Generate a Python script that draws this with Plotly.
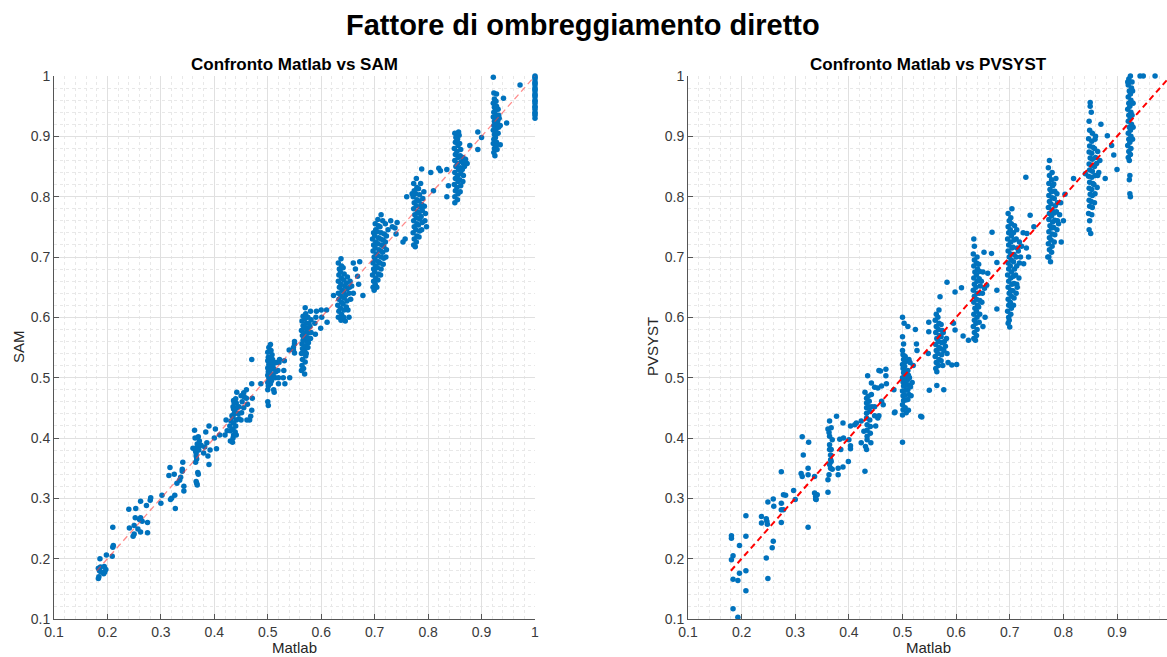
import plotly.graph_objects as go

# ---------------- data ----------------
TICK_VALS = [0.1, 0.2, 0.3, 0.4, 0.5, 0.6, 0.7, 0.8, 0.9, 1.0]
TICK_TEXT = ["0.1", "0.2", "0.3", "0.4", "0.5", "0.6", "0.7", "0.8", "0.9", "1"]

SUPTITLE = "Fattore di ombreggiamento diretto"
TITLE_L = "Confronto Matlab vs SAM"
TITLE_R = "Confronto Matlab vs PVSYST"
XLABEL = "Matlab"
YLABEL_L = "SAM"
YLABEL_R = "PVSYST"

REF_LINE_X = [0.18, 1.0]
REF_LINE_Y = [0.18, 1.0]

# SAM vs Matlab, grouped by Matlab cluster
SAM_LOW = [(0.183,0.167),(0.184,0.170),(0.185,0.180),(0.183,0.184),(0.187,0.186),(0.186,0.200),(0.193,0.175),
           (0.195,0.178),(0.197,0.182),(0.194,0.187),(0.198,0.206),(0.209,0.204),(0.210,0.219),(0.211,0.222),
           (0.210,0.252),(0.188,0.178),
           (0.240,0.282),(0.241,0.251),(0.248,0.237),(0.250,0.241),(0.250,0.255),(0.252,0.268),(0.253,0.283),
           (0.257,0.249),(0.260,0.265),(0.262,0.295),(0.262,0.244),(0.265,0.262),(0.273,0.288),(0.275,0.243),
           (0.275,0.260),(0.280,0.297),(0.281,0.301),(0.262,0.268),
           (0.300,0.292),(0.302,0.305),(0.315,0.338),(0.317,0.351),(0.318,0.298),(0.320,0.300),(0.325,0.340),
           (0.326,0.305),(0.327,0.283),(0.330,0.325),(0.335,0.330),(0.340,0.345),(0.340,0.348),(0.341,0.360),
           (0.343,0.312),(0.343,0.320),(0.337,0.335)]
SAM_037 = [(0.363,0.413),(0.364,0.400),(0.365,0.383),(0.366,0.370),(0.365,0.360),(0.367,0.325),(0.368,0.322),
           (0.366,0.328),(0.369,0.343),(0.370,0.340),(0.371,0.380),(0.372,0.395),(0.368,0.390),(0.366,0.375),
           (0.370,0.402),(0.367,0.365),(0.371,0.385),(0.365,0.378),(0.380,0.375),(0.382,0.385),(0.384,0.410),
           (0.386,0.392),(0.390,0.420),(0.392,0.380),(0.388,0.370),(0.390,0.356),(0.400,0.400),(0.402,0.415),
           (0.404,0.382),(0.410,0.405),(0.375,0.388),(0.360,0.383)]
SAM_044 = [(0.430,0.395),(0.430,0.412),(0.431,0.428),(0.429,0.420),(0.434,0.393),(0.435,0.400),(0.436,0.405),
           (0.435,0.415),(0.436,0.425),(0.435,0.435),(0.437,0.440),(0.436,0.448),(0.435,0.452),(0.437,0.458),
           (0.436,0.462),(0.440,0.420),(0.441,0.430),(0.440,0.442),(0.442,0.450),(0.441,0.458),(0.440,0.465),
           (0.442,0.476),(0.439,0.410),(0.441,0.405),(0.445,0.440),(0.446,0.452),(0.446,0.432),(0.450,0.470),
           (0.451,0.442),(0.450,0.430),(0.452,0.460),(0.455,0.475),(0.456,0.468),(0.455,0.450),(0.460,0.480),
           (0.461,0.430),(0.460,0.466),(0.462,0.456),(0.470,0.490),(0.470,0.446),(0.468,0.436),(0.466,0.430),
           (0.471,0.466),(0.420,0.405),(0.422,0.430),(0.424,0.412),(0.438,0.446),(0.433,0.437)]
SAM_050 = [(0.500,0.460),(0.501,0.454),(0.500,0.480),(0.501,0.486),(0.500,0.492),(0.502,0.498),(0.500,0.504),
           (0.501,0.510),(0.500,0.516),(0.502,0.522),(0.500,0.528),(0.501,0.534),(0.500,0.542),(0.502,0.550),
           (0.505,0.490),(0.506,0.500),(0.504,0.508),(0.506,0.514),(0.505,0.520),(0.504,0.530),(0.506,0.545),
           (0.505,0.555),(0.507,0.495),(0.510,0.505),(0.511,0.515),(0.510,0.522),(0.509,0.530),(0.511,0.480),
           (0.512,0.476),(0.515,0.510),(0.516,0.525),(0.514,0.500),(0.520,0.500),(0.521,0.525),(0.519,0.512),
           (0.522,0.530),(0.520,0.490),(0.530,0.512),(0.531,0.528),(0.529,0.500),(0.532,0.490),(0.540,0.546),
           (0.541,0.500),(0.550,0.556),(0.550,0.541),(0.548,0.550),(0.470,0.530),(0.487,0.490),(0.503,0.526),
           (0.508,0.538)]
SAM_057 = [(0.563,0.512),(0.564,0.520),(0.565,0.530),(0.563,0.540),(0.565,0.548),(0.564,0.556),(0.566,0.562),
           (0.565,0.570),(0.563,0.578),(0.566,0.586),(0.564,0.594),(0.566,0.602),(0.569,0.506),(0.570,0.526),
           (0.571,0.536),(0.569,0.545),(0.570,0.553),(0.572,0.561),(0.570,0.568),(0.571,0.575),(0.569,0.583),
           (0.572,0.590),(0.570,0.598),(0.571,0.606),(0.570,0.616),(0.575,0.550),(0.576,0.558),(0.574,0.566),
           (0.576,0.574),(0.575,0.582),(0.577,0.590),(0.575,0.600),(0.580,0.565),(0.581,0.575),(0.579,0.585),
           (0.581,0.596),(0.580,0.610),(0.588,0.590),(0.590,0.600),(0.591,0.610),(0.589,0.572),(0.600,0.612),
           (0.601,0.600),(0.599,0.582),(0.610,0.612),(0.611,0.592),(0.550,0.560),(0.548,0.546),(0.567,0.515),
           (0.572,0.540)]
SAM_064 = [(0.632,0.600),(0.633,0.610),(0.631,0.620),(0.633,0.630),(0.632,0.640),(0.634,0.650),(0.632,0.660),
           (0.633,0.670),(0.634,0.680),(0.632,0.690),(0.637,0.595),(0.638,0.605),(0.636,0.615),(0.638,0.625),
           (0.637,0.635),(0.639,0.645),(0.637,0.655),(0.638,0.665),(0.636,0.675),(0.638,0.685),(0.637,0.697),
           (0.642,0.600),(0.643,0.612),(0.641,0.622),(0.643,0.632),(0.642,0.642),(0.644,0.652),(0.642,0.662),
           (0.643,0.672),(0.641,0.682),(0.647,0.617),(0.648,0.627),(0.646,0.637),(0.648,0.647),(0.647,0.657),
           (0.649,0.667),(0.652,0.640),(0.653,0.650),(0.655,0.630),(0.654,0.660),(0.650,0.612),(0.657,0.652),
           (0.660,0.690),(0.664,0.680),(0.668,0.668),(0.670,0.655),(0.672,0.692),(0.678,0.636),(0.623,0.636),
           (0.645,0.594),(0.652,0.600),(0.660,0.640)]
SAM_071 = [(0.697,0.650),(0.698,0.660),(0.696,0.670),(0.698,0.680),(0.697,0.690),(0.699,0.700),(0.697,0.710),
           (0.698,0.720),(0.696,0.730),(0.698,0.740),(0.701,0.655),(0.702,0.665),(0.700,0.675),(0.702,0.685),
           (0.701,0.695),(0.703,0.705),(0.701,0.715),(0.702,0.725),(0.700,0.735),(0.702,0.745),(0.701,0.755),
           (0.706,0.662),(0.707,0.672),(0.705,0.682),(0.707,0.692),(0.706,0.702),(0.708,0.712),(0.706,0.722),
           (0.707,0.732),(0.705,0.742),(0.707,0.752),(0.706,0.762),(0.711,0.670),(0.712,0.680),(0.710,0.690),
           (0.712,0.700),(0.711,0.710),(0.713,0.720),(0.711,0.730),(0.712,0.740),(0.710,0.750),(0.712,0.770),
           (0.716,0.688),(0.717,0.698),(0.715,0.708),(0.717,0.718),(0.716,0.728),(0.718,0.738),(0.721,0.700),
           (0.722,0.712),(0.720,0.725),(0.722,0.735),(0.725,0.745),(0.730,0.760),(0.733,0.750),(0.738,0.748),
           (0.740,0.738),(0.742,0.757),(0.757,0.730),(0.699,0.645),(0.704,0.650),(0.715,0.760),(0.720,0.755)]
SAM_078 = [(0.773,0.720),(0.774,0.730),(0.772,0.740),(0.774,0.750),(0.773,0.760),(0.775,0.770),(0.773,0.780),
           (0.774,0.790),(0.772,0.800),(0.774,0.810),(0.773,0.822),(0.778,0.725),(0.779,0.735),(0.777,0.745),
           (0.779,0.755),(0.778,0.765),(0.780,0.775),(0.778,0.785),(0.779,0.795),(0.777,0.805),(0.779,0.815),
           (0.778,0.830),(0.783,0.733),(0.784,0.743),(0.782,0.753),(0.784,0.763),(0.783,0.773),(0.785,0.783),
           (0.783,0.793),(0.784,0.803),(0.782,0.813),(0.788,0.745),(0.789,0.757),(0.787,0.767),(0.789,0.777),
           (0.788,0.787),(0.790,0.797),(0.794,0.760),(0.795,0.772),(0.793,0.784),(0.797,0.750),(0.776,0.717),
           (0.788,0.846),(0.805,0.840),(0.820,0.847),(0.823,0.843),(0.835,0.845),(0.838,0.818),(0.835,0.800),
           (0.760,0.800),(0.753,0.725),(0.810,0.810),(0.770,0.805),(0.786,0.822),(0.792,0.808)]
SAM_085 = [(0.850,0.800),(0.851,0.810),(0.849,0.820),(0.851,0.830),(0.850,0.840),(0.852,0.850),(0.850,0.860),
           (0.851,0.870),(0.849,0.880),(0.851,0.890),(0.850,0.905),(0.855,0.795),(0.856,0.805),(0.854,0.815),
           (0.856,0.825),(0.855,0.835),(0.857,0.845),(0.855,0.855),(0.856,0.865),(0.854,0.875),(0.856,0.885),
           (0.855,0.895),(0.857,0.907),(0.860,0.808),(0.861,0.818),(0.859,0.828),(0.861,0.838),(0.860,0.848),
           (0.862,0.858),(0.860,0.868),(0.861,0.878),(0.859,0.888),(0.865,0.825),(0.866,0.835),(0.864,0.845),
           (0.866,0.855),(0.865,0.865),(0.868,0.850),(0.870,0.862),(0.873,0.855),(0.850,0.790),(0.878,0.885),
           (0.893,0.907),(0.900,0.898),(0.893,0.878),(0.852,0.898),(0.858,0.902)]
SAM_092 = [(0.922,0.998),(0.923,0.972),(0.928,0.970),(0.924,0.962),(0.922,0.955),(0.924,0.948),(0.923,0.940),
           (0.922,0.932),(0.924,0.925),(0.923,0.918),(0.922,0.910),(0.924,0.903),(0.923,0.895),(0.922,0.888),
           (0.924,0.880),(0.923,0.873),(0.927,0.958),(0.928,0.950),(0.926,0.943),(0.928,0.935),(0.927,0.928),
           (0.929,0.920),(0.927,0.912),(0.928,0.905),(0.926,0.898),(0.928,0.890),(0.927,0.884),(0.931,0.945),
           (0.932,0.935),(0.930,0.925),(0.932,0.915),(0.931,0.905),(0.933,0.930),(0.935,0.918),(0.941,0.963),
           (0.947,0.922),(0.935,0.886),(0.972,0.985),(0.925,0.868),(0.929,0.878)]
SAM_100 = [(1.0,0.930),(1.0,0.935),(1.0,0.940),(1.0,0.945),(1.0,0.950),(1.0,0.955),(1.0,0.960),(1.0,0.965),
           (1.0,0.970),(1.0,0.975),(1.0,0.980),(1.0,0.985),(1.0,0.990),(1.0,0.995),(1.0,1.000),(1.0,0.938),
           (1.0,0.948),(1.0,0.958),(1.0,0.968),(1.0,0.978),(1.0,0.988),(1.0,0.998)]

# PVSYST vs Matlab, grouped by Matlab cluster
PVS_LOW = [(0.181,0.238),(0.181,0.234),(0.181,0.198),(0.184,0.205),(0.184,0.166),(0.184,0.117),(0.193,0.164),
           (0.193,0.103),(0.196,0.222),(0.196,0.176),(0.208,0.271),(0.208,0.237),(0.208,0.180),(0.208,0.147),
           (0.237,0.270),(0.237,0.259),(0.246,0.266),(0.247,0.262),(0.248,0.257),(0.249,0.294),(0.246,0.201),
           (0.249,0.167),(0.259,0.299),(0.260,0.287),(0.259,0.229),(0.257,0.218),(0.274,0.344),(0.274,0.292),
           (0.274,0.281),(0.274,0.260),(0.278,0.306),(0.278,0.281),(0.282,0.305),
           (0.297,0.313),(0.300,0.298),(0.313,0.402),(0.315,0.372),(0.311,0.341),(0.313,0.336),(0.324,0.350),
           (0.325,0.393),(0.324,0.339),(0.324,0.252),(0.336,0.336),(0.336,0.309),(0.338,0.303),(0.338,0.299),
           (0.341,0.306),(0.339,0.298)]
PVS_037 = [(0.361,0.415),(0.363,0.409),(0.364,0.428),(0.364,0.403),(0.364,0.389),(0.364,0.381),(0.366,0.372),
           (0.366,0.364),(0.364,0.356),(0.366,0.350),(0.363,0.339),(0.361,0.331),(0.361,0.310),(0.367,0.417),
           (0.367,0.381),(0.367,0.361),(0.369,0.348),(0.369,0.397),(0.377,0.436),(0.380,0.350),(0.380,0.339),
           (0.383,0.398),(0.385,0.381),(0.389,0.425),(0.389,0.352),(0.390,0.400),(0.399,0.361),(0.400,0.397),
           (0.403,0.420),(0.403,0.387),(0.403,0.382),(0.411,0.422),(0.414,0.425)]
PVS_044 = [(0.423,0.428),(0.423,0.392),(0.428,0.411),(0.430,0.476),(0.431,0.386),(0.430,0.345),(0.433,0.381),
           (0.433,0.466),(0.433,0.458),(0.433,0.450),(0.433,0.441),(0.433,0.433),(0.434,0.422),(0.434,0.413),
           (0.434,0.403),(0.434,0.397),(0.435,0.503),(0.436,0.469),(0.438,0.461),(0.438,0.452),(0.439,0.444),
           (0.439,0.430),(0.440,0.419),(0.440,0.408),(0.441,0.392),(0.442,0.491),(0.442,0.472),(0.443,0.452),
           (0.448,0.484),(0.448,0.452),(0.448,0.437),(0.450,0.420),(0.454,0.483),(0.454,0.433),(0.456,0.437),
           (0.456,0.512),(0.459,0.511),(0.461,0.486),(0.461,0.461),(0.464,0.455),(0.469,0.514),(0.469,0.503),
           (0.470,0.490),(0.484,0.480),(0.486,0.443)]
PVS_050 = [(0.500,0.600),(0.503,0.590),(0.510,0.585),(0.524,0.580),(0.500,0.568),(0.502,0.556),(0.526,0.556),
           (0.527,0.545),(0.500,0.545),(0.501,0.538),(0.502,0.530),(0.500,0.522),(0.501,0.515),(0.502,0.508),
           (0.500,0.500),(0.501,0.493),(0.502,0.486),(0.500,0.478),(0.501,0.470),(0.502,0.462),(0.500,0.455),
           (0.501,0.447),(0.500,0.438),(0.505,0.535),(0.506,0.527),(0.504,0.519),(0.506,0.511),(0.505,0.503),
           (0.507,0.495),(0.505,0.487),(0.506,0.479),(0.504,0.471),(0.506,0.463),(0.505,0.450),(0.510,0.512),
           (0.511,0.504),(0.509,0.496),(0.511,0.488),(0.510,0.480),(0.512,0.472),(0.510,0.464),(0.513,0.500),
           (0.515,0.485),(0.516,0.470),(0.514,0.525),(0.520,0.520),(0.511,0.446),(0.507,0.442),(0.534,0.436),
           (0.485,0.442),(0.500,0.393),(0.518,0.492),(0.512,0.530)]
PVS_057 = [(0.562,0.515),(0.563,0.525),(0.561,0.535),(0.563,0.545),(0.562,0.555),(0.564,0.565),(0.562,0.575),
           (0.563,0.585),(0.561,0.595),(0.563,0.605),(0.567,0.520),(0.568,0.530),(0.566,0.540),(0.568,0.550),
           (0.567,0.560),(0.569,0.570),(0.567,0.580),(0.568,0.590),(0.566,0.600),(0.568,0.612),(0.572,0.528),
           (0.573,0.538),(0.571,0.548),(0.573,0.558),(0.572,0.568),(0.574,0.578),(0.572,0.588),(0.577,0.545),
           (0.578,0.560),(0.576,0.575),(0.580,0.552),(0.582,0.565),(0.583,0.540),(0.585,0.525),(0.549,0.592),
           (0.549,0.576),(0.570,0.634),(0.583,0.658),(0.598,0.642),(0.610,0.649),(0.595,0.590),(0.598,0.579),
           (0.601,0.522),(0.592,0.521),(0.564,0.487),(0.577,0.480),(0.550,0.479),(0.613,0.569),(0.623,0.562),
           (0.564,0.510),(0.575,0.520),(0.536,0.435),(0.548,0.540)]
PVS_064 = [(0.633,0.565),(0.634,0.575),(0.632,0.585),(0.634,0.595),(0.633,0.605),(0.635,0.615),(0.633,0.625),
           (0.634,0.635),(0.632,0.645),(0.634,0.655),(0.633,0.665),(0.635,0.675),(0.633,0.685),(0.634,0.695),
           (0.632,0.705),(0.634,0.718),(0.633,0.730),(0.638,0.570),(0.639,0.580),(0.637,0.590),(0.639,0.600),
           (0.638,0.610),(0.640,0.620),(0.638,0.630),(0.639,0.640),(0.637,0.650),(0.639,0.660),(0.638,0.670),
           (0.640,0.680),(0.638,0.690),(0.639,0.700),(0.643,0.592),(0.644,0.605),(0.642,0.617),(0.644,0.628),
           (0.643,0.640),(0.645,0.652),(0.643,0.664),(0.644,0.676),(0.642,0.688),(0.648,0.625),(0.649,0.640),
           (0.647,0.660),(0.650,0.675),(0.653,0.648),(0.654,0.600),(0.650,0.585),(0.667,0.741),(0.666,0.706),
           (0.676,0.691),(0.659,0.673),(0.676,0.645),(0.676,0.614),(0.657,0.653),(0.652,0.708),(0.636,0.562)]
PVS_071 = [(0.697,0.590),(0.698,0.600),(0.696,0.610),(0.698,0.620),(0.697,0.630),(0.699,0.640),(0.697,0.650),
           (0.698,0.660),(0.696,0.670),(0.698,0.680),(0.697,0.690),(0.699,0.700),(0.697,0.710),(0.698,0.720),
           (0.696,0.730),(0.698,0.740),(0.697,0.750),(0.699,0.760),(0.697,0.772),(0.702,0.605),(0.703,0.615),
           (0.701,0.625),(0.703,0.635),(0.702,0.645),(0.704,0.655),(0.702,0.665),(0.703,0.675),(0.701,0.685),
           (0.703,0.695),(0.702,0.705),(0.704,0.715),(0.702,0.725),(0.703,0.735),(0.701,0.745),(0.703,0.755),
           (0.702,0.765),(0.704,0.780),(0.707,0.620),(0.708,0.632),(0.706,0.644),(0.708,0.656),(0.707,0.668),
           (0.709,0.680),(0.707,0.692),(0.708,0.704),(0.706,0.716),(0.708,0.728),(0.707,0.740),(0.709,0.752),
           (0.712,0.640),(0.713,0.655),(0.711,0.670),(0.713,0.685),(0.712,0.700),(0.714,0.715),(0.712,0.730),
           (0.713,0.745),(0.717,0.665),(0.718,0.690),(0.716,0.710),(0.718,0.725),(0.720,0.700),(0.722,0.718),
           (0.732,0.739),(0.738,0.769),(0.731,0.715),(0.726,0.689),(0.714,0.650),(0.700,0.584),(0.745,0.750),
           (0.735,0.700),(0.725,0.740),(0.699,0.595)]
PVS_078 = [(0.773,0.700),(0.774,0.712),(0.772,0.722),(0.774,0.732),(0.773,0.742),(0.775,0.752),(0.773,0.762),
           (0.774,0.772),(0.772,0.782),(0.774,0.792),(0.773,0.802),(0.775,0.812),(0.773,0.822),(0.774,0.835),
           (0.772,0.848),(0.774,0.860),(0.778,0.708),(0.779,0.718),(0.777,0.728),(0.779,0.738),(0.778,0.748),
           (0.780,0.758),(0.778,0.768),(0.779,0.778),(0.777,0.788),(0.779,0.798),(0.778,0.808),(0.780,0.818),
           (0.778,0.828),(0.779,0.840),(0.783,0.725),(0.784,0.737),(0.782,0.749),(0.784,0.761),(0.783,0.773),
           (0.785,0.785),(0.783,0.797),(0.784,0.809),(0.782,0.821),(0.788,0.745),(0.789,0.760),(0.787,0.775),
           (0.789,0.790),(0.788,0.805),(0.793,0.770),(0.795,0.790),(0.796,0.725),(0.791,0.755),(0.776,0.692),
           (0.819,0.830),(0.841,0.838),(0.803,0.804),(0.730,0.832),(0.800,0.760),(0.786,0.830),(0.771,0.700)]
PVS_085 = [(0.848,0.745),(0.849,0.760),(0.847,0.772),(0.849,0.784),(0.848,0.794),(0.850,0.804),(0.848,0.814),
           (0.849,0.824),(0.847,0.834),(0.849,0.844),(0.848,0.854),(0.850,0.864),(0.848,0.874),(0.849,0.884),
           (0.847,0.896),(0.849,0.910),(0.848,0.925),(0.850,0.950),(0.853,0.770),(0.854,0.782),(0.852,0.792),
           (0.854,0.802),(0.853,0.812),(0.855,0.822),(0.853,0.832),(0.854,0.842),(0.852,0.852),(0.854,0.862),
           (0.853,0.872),(0.855,0.882),(0.853,0.892),(0.854,0.905),(0.852,0.940),(0.858,0.790),(0.859,0.805),
           (0.857,0.820),(0.859,0.835),(0.858,0.850),(0.860,0.865),(0.858,0.880),(0.859,0.895),(0.863,0.815),
           (0.864,0.835),(0.862,0.855),(0.864,0.875),(0.866,0.840),(0.868,0.860),(0.870,0.920),(0.878,0.830),
           (0.900,0.845),(0.894,0.869),(0.882,0.901),(0.890,0.885),(0.851,0.739),(0.860,0.900),(0.850,0.956)]
PVS_092 = [(0.921,0.865),(0.922,0.875),(0.920,0.885),(0.922,0.895),(0.921,0.905),(0.923,0.915),(0.921,0.925),
           (0.922,0.935),(0.920,0.945),(0.922,0.955),(0.921,0.965),(0.923,0.975),(0.921,0.985),(0.922,0.995),
           (0.925,0.870),(0.926,0.880),(0.924,0.890),(0.926,0.900),(0.925,0.910),(0.927,0.920),(0.925,0.930),
           (0.926,0.940),(0.924,0.950),(0.926,0.960),(0.925,0.970),(0.927,0.980),(0.925,1.000),(0.929,0.895),
           (0.930,0.915),(0.928,0.935),(0.930,0.955),(0.929,0.975),(0.923,0.860),(0.924,0.835),(0.923,0.828),
           (0.924,0.805),(0.925,0.800),(0.943,1.000),(0.949,1.000),(0.971,1.000),(0.920,0.990),(0.928,0.990)]

SAM_GROUPS = [SAM_LOW, SAM_037, SAM_044, SAM_050, SAM_057, SAM_064, SAM_071, SAM_078, SAM_085, SAM_092, SAM_100]
PVS_GROUPS = [PVS_LOW, PVS_037, PVS_044, PVS_050, PVS_057, PVS_064, PVS_071, PVS_078, PVS_085, PVS_092]

# ---------------- styling ----------------
BLUE = "#0072BD"
FONT = "Liberation Sans, Arial, Helvetica, sans-serif"
TXT = "#262626"
W, H = 1167, 657


def flat(groups):
    xs, ys = [], []
    for g in groups:
        for x, y in g:
            xs.append(x)
            ys.append(y)
    return xs, ys


sam_x, sam_y = flat(SAM_GROUPS)
pvs_x, pvs_y = flat(PVS_GROUPS)

fig = go.Figure()
fig.add_trace(go.Scatter(x=sam_x, y=sam_y, mode="markers", xaxis="x", yaxis="y",
                         marker=dict(color=BLUE, size=5.5, line=dict(width=0)),
                         cliponaxis=False, showlegend=False))
fig.add_trace(go.Scatter(x=REF_LINE_X, y=REF_LINE_Y, mode="lines", xaxis="x", yaxis="y",
                         line=dict(color="rgba(255,60,60,0.6)", width=1.3, dash="6px,4px"),
                         showlegend=False))
fig.add_trace(go.Scatter(x=pvs_x, y=pvs_y, mode="markers", xaxis="x2", yaxis="y2",
                         marker=dict(color=BLUE, size=5.5, line=dict(width=0)),
                         cliponaxis=False, showlegend=False))
fig.add_trace(go.Scatter(x=REF_LINE_X, y=REF_LINE_Y, mode="lines", xaxis="x2", yaxis="y2",
                         line=dict(color="#FF0000", width=2, dash="6px,4px"),
                         showlegend=False))

ax_common = dict(
    tickvals=TICK_VALS, ticktext=TICK_TEXT,
    showgrid=True, gridcolor="#e0e0e0", gridwidth=1,
    minor=dict(dtick=0.02, tick0=0.1, showgrid=True, gridcolor="#e8e8e8",
               griddash="dot", gridwidth=1, ticks=""),
    showline=True, linecolor="#555555", linewidth=1,
    ticks="inside", ticklen=5, tickcolor="#555555",
    tickfont=dict(family=FONT, size=14, color="#3a3a3a"),
    zeroline=False, automargin=False, fixedrange=True,
)

y_dom = [(H - 619) / H, (H - 76) / H]
fig.update_layout(
    width=W, height=H,
    margin=dict(l=0, r=0, t=0, b=0),
    paper_bgcolor="white", plot_bgcolor="white",
    xaxis=dict(ax_common, domain=[54 / W, 535 / W], range=[0.1, 1.0], anchor="y"),
    yaxis=dict(ax_common, domain=y_dom, range=[0.1, 1.0], anchor="x"),
    xaxis2=dict(ax_common, domain=[688 / W, 1.0], range=[0.1, 0.1 + 479 / 536.25], anchor="y2"),
    yaxis2=dict(ax_common, domain=y_dom, range=[0.1, 1.0], anchor="x2"),
    showlegend=False,
)

ann = []
ann.append(dict(text="<b>" + SUPTITLE + "</b>", x=583 / W, y=(H - 25) / H, xref="paper", yref="paper",
                xanchor="center", yanchor="middle", showarrow=False,
                font=dict(family=FONT, size=29, color="black")))
ann.append(dict(text="<b>" + TITLE_L + "</b>", x=(54 + 535) / 2 / W, y=(H - 64) / H, xref="paper", yref="paper",
                xanchor="center", yanchor="middle", showarrow=False,
                font=dict(family=FONT, size=17, color="black")))
ann.append(dict(text="<b>" + TITLE_R + "</b>", x=(688 + 1169) / 2 / W, y=(H - 64) / H, xref="paper", yref="paper",
                xanchor="center", yanchor="middle", showarrow=False,
                font=dict(family=FONT, size=17, color="black")))
ann.append(dict(text=XLABEL, x=(54 + 535) / 2 / W, y=0.0, xref="paper", yref="paper",
                xanchor="center", yanchor="bottom", showarrow=False, borderpad=0,
                font=dict(family=FONT, size=15, color=TXT)))
ann.append(dict(text=XLABEL, x=(688 + 1169) / 2 / W, y=0.0, xref="paper", yref="paper",
                xanchor="center", yanchor="bottom", showarrow=False, borderpad=0,
                font=dict(family=FONT, size=15, color=TXT)))
ann.append(dict(text=YLABEL_L, x=18 / W, y=(H - 347) / H, xref="paper", yref="paper",
                xanchor="center", yanchor="middle", showarrow=False, textangle=-90,
                font=dict(family=FONT, size=15, color=TXT)))
ann.append(dict(text=YLABEL_R, x=652 / W, y=(H - 347) / H, xref="paper", yref="paper",
                xanchor="center", yanchor="middle", showarrow=False, textangle=-90,
                font=dict(family=FONT, size=15, color=TXT)))
fig.update_layout(annotations=ann)

fig.write_html("out.html", config={"displayModeBar": False})
